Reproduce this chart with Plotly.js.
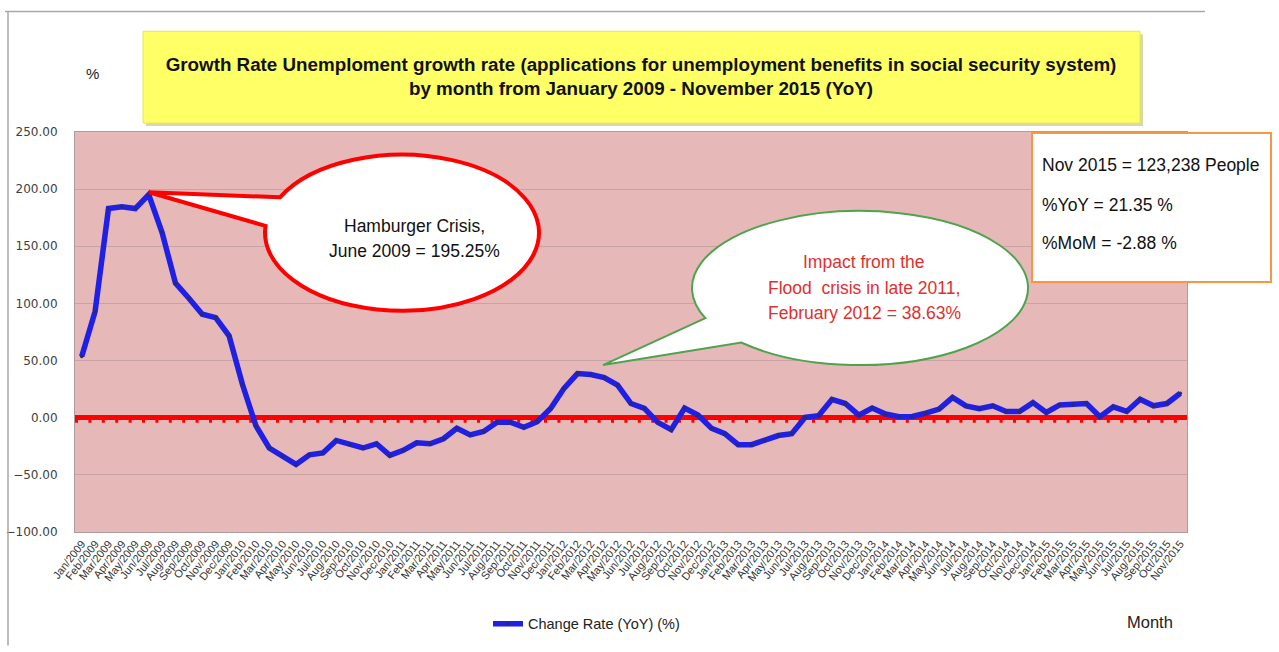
<!DOCTYPE html>
<html><head><meta charset="utf-8">
<script src="https://cdn.plot.ly/plotly-3.0.1.min.js"></script>
<style>html,body{margin:0;padding:0;background:#fff;}#chart{width:1279px;height:652px;}</style>
</head><body><div id="chart"></div>
<script>
// ---- data ----
const monthNames = ['Jan','Feb','Mar','Apr','May','Jun','Jul','Aug','Sep','Oct','Nov','Dec'];
const years = [2009, 2010, 2011, 2012, 2013, 2014, 2015];
const lastMonthCount = 11; // data ends Nov/2015
const categories = [];
years.forEach((y, yi) => {
  const n = (yi === years.length - 1) ? lastMonthCount : 12;
  for (let m = 0; m < n; m++) categories.push(monthNames[m] + '/' + y);
});
const yoyChange = [
  53.6, 93.0, 183.0, 184.5, 183.0, 195.25, 162.0, 117.8, 104.6, 90.5, 87.6, 71.7,
  29.0, -7.0, -26.5, -33.7, -40.9, -32.5, -30.8, -19.9, -23.6, -26.5, -22.8, -33.0,
  -28.5, -21.9, -22.8, -18.4, -9.2, -15.0, -12.1, -4.0, -4.0, -8.4, -3.5, 8.0,
  25.7, 38.63, 37.8, 35.2, 28.6, 12.4, 8.2, -4.0, -10.4, 8.4, 2.3, -9.2,
  -14.0, -23.6, -23.6, -19.9, -15.6, -14.0, 0.3, 1.7, 16.1, 12.4, 2.3, 8.4,
  3.2, 0.9, 1.1, 4.0, 7.5, 17.8, 10.4, 8.0, 10.4, 5.5, 5.5, 13.2,
  4.6, 11.2, 11.8, 12.4, 0.9, 9.5, 5.5, 16.1, 10.4, 12.4, 21.35
];
const yTickValues = [-100, -50, 0, 50, 100, 150, 200, 250];
const seriesName = 'Change Rate (YoY) (%)';
const titleLines = ['Growth Rate Unemploment growth rate (applications for unemployment benefits in social security system)',
                    'by month from January 2009 - November 2015 (YoY)'];
const crisisNote = ['Hamburger Crisis,', 'June 2009 = 195.25%'];
const floodNote = ['Impact from the', 'Flood&nbsp; crisis in late 2011,', 'February 2012 = 38.63%'];
const latestNote = ['Nov 2015 = 123,238 People', '%YoY = 21.35 %', '%MoM = -2.88 %'];

// ---- layout geometry (pixels) ----
const W = 1279, H = 652, L = 75, R = 1187, T = 132, B = 537;
const px = x => (x - L) / (R - L);
const py = y => (B - y) / (B - T);
const FONT = 'Liberation Sans, Arial, sans-serif';

function bubblePath(cx, cy, rx, ry, aStart, tip, aEnd) {
  const rad = d => d * Math.PI / 180;
  const pt = a => [cx + rx * Math.cos(a), cy + ry * Math.sin(a)];
  const fmt = p => px(p[0]).toFixed(5) + ',' + py(p[1]).toFixed(5);
  let a1 = rad(aEnd), a2 = rad(aStart);
  let sweep = a2 - a1;
  if (Math.abs(sweep) < Math.PI) sweep = sweep > 0 ? sweep - 2 * Math.PI : sweep + 2 * Math.PI;
  let d = 'M' + fmt(pt(rad(aStart))) + ' L' + fmt(tip) + ' L' + fmt(pt(a1));
  const nSeg = Math.ceil(Math.abs(sweep) / (Math.PI / 4));
  const step = sweep / nSeg;
  for (let i = 0; i < nSeg; i++) {
    const a = a1 + i * step, b = a + step;
    const k = 4 / 3 * Math.tan(step / 4);
    const p0 = pt(a), p3 = pt(b);
    const p1 = [p0[0] - k * rx * Math.sin(a), p0[1] + k * ry * Math.cos(a)];
    const p2 = [p3[0] + k * rx * Math.sin(b), p3[1] - k * ry * Math.cos(b)];
    d += ' C' + fmt(p1) + ' ' + fmt(p2) + ' ' + fmt(p3);
  }
  return d + ' Z';
}

const traces = [{
  type: 'scatter', mode: 'lines+markers', name: seriesName,
  x: categories, y: yoyChange,
  line: {color: '#1F1FE6', width: 5.5},
  marker: {color: '#2B2B66', size: 3.5},
  showlegend: true
}];

const shapes = [
  // frame lines
  {type: 'line', xref: 'paper', yref: 'paper', x0: px(5), x1: px(1205), y0: py(10), y1: py(10), line: {color: '#A8A8A8', width: 1.5}},
  {type: 'line', xref: 'paper', yref: 'paper', x0: px(8), x1: px(8), y0: py(10), y1: py(652), line: {color: '#A8A8A8', width: 1.5}},
  // small tick dashes hanging under the red zero line
  {type: 'line', layer: 'below', xref: 'x', yref: 'y', ysizemode: 'pixel', yanchor: 0, x0: -0.5, x1: categories.length - 0.5, y0: -3.5, y1: -3.5,
   line: {color: '#FF0000', width: 3, dash: '3px,10.4px'}},
  // title box
  {type: 'rect', xref: 'paper', yref: 'paper', x0: px(146), x1: px(1143), y0: py(33), y1: py(126), fillcolor: '#D8D8A8', line: {width: 0}},
  {type: 'rect', xref: 'paper', yref: 'paper', x0: px(143), x1: px(1140), y0: py(30), y1: py(123), fillcolor: '#FFFF66', line: {color: '#E6E65C', width: 1}},
  // crisis bubble
  {type: 'path', xref: 'paper', yref: 'paper', path: bubblePath(402, 234, 137, 79, 207, [149, 193], 185),
   fillcolor: '#FFFFFF', line: {color: '#FF0000', width: 4}},
  // flood bubble
  {type: 'path', xref: 'paper', yref: 'paper', path: bubblePath(860, 290, 168, 78, 157, [603, 368], 135),
   fillcolor: '#FFFFFF', line: {color: '#4FA34F', width: 2}},
  // info box
  {type: 'rect', xref: 'paper', yref: 'paper', x0: px(1032), x1: px(1271), y0: py(133), y1: py(284),
   fillcolor: '#FFFFFF', line: {color: '#F79646', width: 2}}
];

const ann = (x, y, text, opts) => Object.assign({xref: 'paper', yref: 'paper', x: px(x), y: py(y), text: text,
  showarrow: false, xanchor: 'center', yanchor: 'middle', font: {family: FONT, size: 17, color: '#111'}}, opts || {});

const annotations = [
  ann(92, 73, '%', {font: {family: FONT, size: 15, color: '#222'}}),
  ann(1150, 628, 'Month', {font: {family: FONT, size: 16.5, color: '#222'}}),
  ann(414, 227, crisisNote[0], {font: {family: FONT, size: 17.5, color: '#111'}}),
  ann(414, 252, crisisNote[1], {font: {family: FONT, size: 17.5, color: '#111'}}),
  ann(864, 264, floodNote[0], {font: {family: FONT, size: 17.5, color: '#E0302E'}}),
  ann(864, 290, floodNote[1], {font: {family: FONT, size: 17.5, color: '#E0302E'}}),
  ann(864, 315, floodNote[2], {font: {family: FONT, size: 17.5, color: '#E0302E'}}),
  ann(1040, 165, latestNote[0], {xanchor: 'left', font: {family: FONT, size: 17.5, color: '#111'}}),
  ann(1040, 206, latestNote[1], {xanchor: 'left', font: {family: FONT, size: 17.5, color: '#111'}}),
  ann(1040, 244, latestNote[2], {xanchor: 'left', font: {family: FONT, size: 17.5, color: '#111'}})
];

const layout = {
  width: W, height: H, autosize: false,
  margin: {l: L, r: W - R, t: T, b: H - B, pad: 0},
  paper_bgcolor: '#FFFFFF', plot_bgcolor: '#E6B8B7',
  title: {text: titleLines.join('<br>'), xref: 'container', yref: 'container', x: 641 / W, y: 1 - 71 / H,
          xanchor: 'center', yanchor: 'middle', font: {family: FONT, size: 18.8, color: '#111', weight: 'bold'}},
  xaxis: {type: 'category', range: [-0.5, categories.length - 0.5], tickmode: 'array', tickvals: categories, ticktext: categories,
          tickangle: -52, showgrid: false, ticks: '',
          tickfont: {family: FONT, size: 11, color: '#333'}, showline: true, mirror: true, linecolor: '#B09C9C', linewidth: 1,
          fixedrange: true, automargin: false},
  yaxis: {range: [-100, 250], tickvals: yTickValues, tickformat: '.2f', showgrid: true, gridcolor: '#C7A3A3', gridwidth: 1,
          zeroline: true, zerolinecolor: '#FF0000', zerolinewidth: 5, ticks: '', ticklabelstandoff: 14,
          tickfont: {family: 'DejaVu Sans, sans-serif', size: 12, color: '#404040'},
          showline: true, mirror: true, linecolor: '#B09C9C', linewidth: 1, fixedrange: true, automargin: false},
  legend: {orientation: 'h', x: px(488), y: py(630), xanchor: 'left', yanchor: 'middle', bgcolor: 'rgba(0,0,0,0)',
           font: {family: FONT, size: 14.5, color: '#222'}},
  shapes: shapes, annotations: annotations
};

Plotly.newPlot('chart', traces, layout, {staticPlot: true, displayModeBar: false});
</script></body></html>
